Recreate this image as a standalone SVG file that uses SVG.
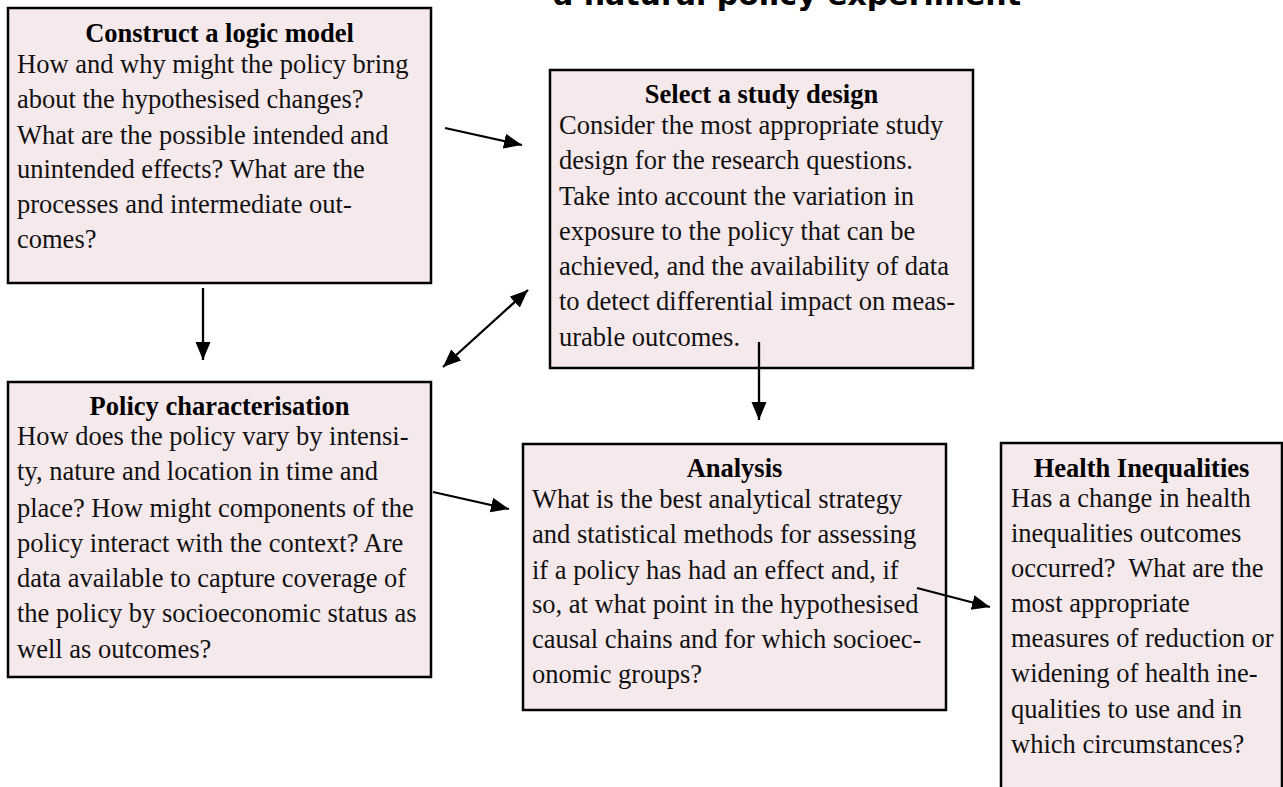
<svg xmlns="http://www.w3.org/2000/svg" width="1283" height="787" viewBox="0 0 1283 787">
<defs>
<style>
.box{fill:#F6E9EC;stroke:#000;stroke-width:2.5}
.t{font-family:"Liberation Serif","Times New Roman",serif;font-size:26.5px;fill:#111}
.h{font-family:"Liberation Serif","Times New Roman",serif;font-size:26.5px;font-weight:bold;fill:#000;text-anchor:middle}
.title{font-family:"DejaVu Sans",Verdana,sans-serif;font-size:30px;font-weight:bold;fill:#000;text-anchor:middle}
.c{stroke:#000;stroke-width:2.3;fill:none}
</style>
<marker id="ah" markerUnits="userSpaceOnUse" markerWidth="20" markerHeight="16" refX="18" refY="7.5" orient="auto-start-reverse">
<path d="M0,0 L18,7.5 L0,15 z" fill="#000"/>
</marker>
</defs>
<rect width="1283" height="787" fill="#fff"/>
<text class="title" x="787" y="5">a natural policy experiment</text>

<g id="logic-model">
<rect class="box" x="8" y="8" width="423" height="275"/>
<text class="h" x="219.5" y="42">Construct a logic model</text>
<text class="t" x="17" y="73">How and why might the policy bring</text>
<text class="t" x="17" y="108">about the hypothesised changes?</text>
<text class="t" x="17" y="144">What are the possible intended and</text>
<text class="t" x="17" y="178">unintended effects? What are the</text>
<text class="t" x="17" y="213">processes and intermediate out-</text>
<text class="t" x="17" y="248">comes?</text>
</g>

<g id="study-design">
<rect class="box" x="550" y="70" width="423" height="298"/>
<text class="h" x="761.5" y="103">Select a study design</text>
<text class="t" x="559" y="134">Consider the most appropriate study</text>
<text class="t" x="559" y="169">design for the research questions.</text>
<text class="t" x="559" y="205">Take into account the variation in</text>
<text class="t" x="559" y="240">exposure to the policy that can be</text>
<text class="t" x="559" y="275">achieved, and the availability of data</text>
<text class="t" x="559" y="310">to detect differential impact on meas-</text>
<text class="t" x="559" y="346">urable outcomes.</text>
</g>

<g id="policy-characterisation">
<rect class="box" x="8" y="382" width="423" height="295"/>
<text class="h" x="219.5" y="415">Policy characterisation</text>
<text class="t" x="17" y="445">How does the policy vary by intensi-</text>
<text class="t" x="17" y="480">ty, nature and location in time and</text>
<text class="t" x="17" y="517">place? How might components of the</text>
<text class="t" x="17" y="552">policy interact with the context? Are</text>
<text class="t" x="17" y="587">data available to capture coverage of</text>
<text class="t" x="17" y="622">the policy by socioeconomic status as</text>
<text class="t" x="17" y="658">well as outcomes?</text>
</g>

<g id="analysis">
<rect class="box" x="523" y="444" width="423" height="266"/>
<text class="h" x="734.5" y="477">Analysis</text>
<text class="t" x="532" y="508">What is the best analytical strategy</text>
<text class="t" x="532" y="543">and statistical methods for assessing</text>
<text class="t" x="532" y="579">if a policy has had an effect and, if</text>
<text class="t" x="532" y="613">so, at what point in the hypothesised</text>
<text class="t" x="532" y="648">causal chains and for which socioec-</text>
<text class="t" x="532" y="683">onomic groups?</text>
</g>

<g id="health-inequalities">
<rect class="box" x="1001" y="443" width="281" height="360"/>
<text class="h" x="1141.5" y="477">Health Inequalities</text>
<text class="t" x="1011" y="507">Has a change in health</text>
<text class="t" x="1011" y="542">inequalities outcomes</text>
<text class="t" x="1011" y="577">occurred?&#160; What are the</text>
<text class="t" x="1011" y="612">most appropriate</text>
<text class="t" x="1011" y="647">measures of reduction or</text>
<text class="t" x="1011" y="682">widening of health ine-</text>
<text class="t" x="1011" y="718">qualities to use and in</text>
<text class="t" x="1011" y="753">which circumstances?</text>
</g>

<g id="connectors">
<line class="c" x1="445" y1="128" x2="522" y2="145" marker-end="url(#ah)"/>
<line class="c" x1="203" y1="288" x2="203" y2="360" marker-end="url(#ah)"/>
<line class="c" x1="443" y1="367" x2="528" y2="290" marker-start="url(#ah)" marker-end="url(#ah)"/>
<line class="c" x1="759" y1="342" x2="759" y2="420" marker-end="url(#ah)"/>
<line class="c" x1="433" y1="492" x2="509" y2="509" marker-end="url(#ah)"/>
<line class="c" x1="917" y1="588" x2="990" y2="607" marker-end="url(#ah)"/>
</g>
</svg>
